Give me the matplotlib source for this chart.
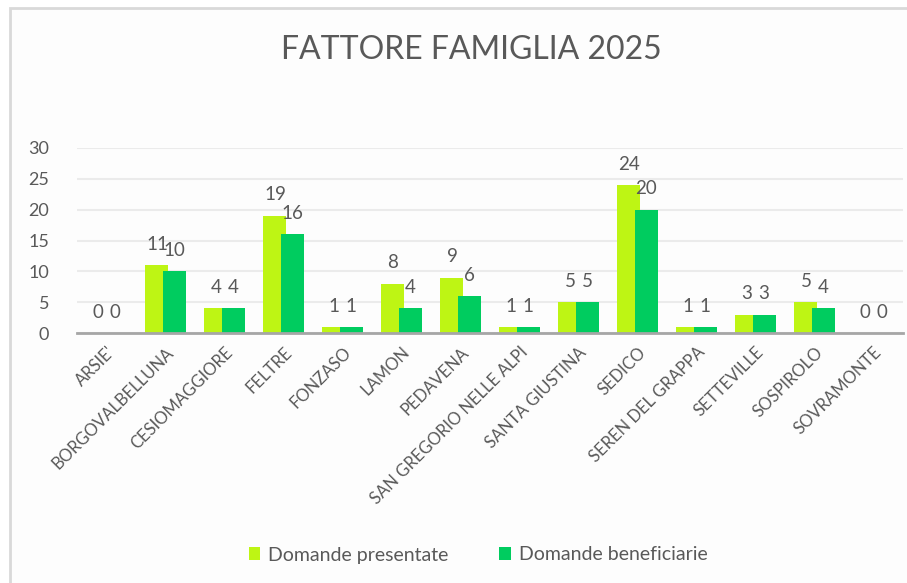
import numpy as np
import matplotlib.pyplot as plt
from matplotlib.patches import Rectangle

# dati del grafico
comuni = ["ARSIE'", "BORGOVALBELLUNA", "CESIOMAGGIORE", "FELTRE", "FONZASO",
          "LAMON", "PEDAVENA", "SAN GREGORIO NELLE ALPI", "SANTA GIUSTINA",
          "SEDICO", "SEREN DEL GRAPPA", "SETTEVILLE", "SOSPIROLO", "SOVRAMONTE"]
presentate = [0, 11, 4, 19, 1, 8, 9, 1, 5, 24, 1, 3, 5, 0]
beneficiarie = [0, 10, 4, 16, 1, 4, 6, 1, 5, 20, 1, 3, 4, 0]
titolo = "FATTORE FAMIGLIA 2025"
serie = ["Domande presentate", "Domande beneficiarie"]

plt.rcParams['font.family'] = ['Lato', 'DejaVu Sans']
grigio = '#595959'
col_lime = '#BEF514'
col_verde = '#00CC5F'

fig = plt.figure(figsize=(9.07, 5.83), dpi=100)
fig.patch.set_facecolor('white')

# cornice del grafico
fig.patches.append(Rectangle((10 / 907, -0.1), 1.2, 1.1 - 8 / 583,
                             transform=fig.transFigure, facecolor='#FDFDFD',
                             edgecolor='#D9D9D9', linewidth=2, zorder=-10))

ax = fig.add_axes([77 / 907, 1 - 333 / 583, 826 / 907, (333 - 148) / 583])
ax.set_facecolor('none')

x = np.arange(len(comuni))
w = 0.39
off = 0.145
b1 = ax.bar(x - off, presentate, w, color=col_lime, zorder=2)
b2 = ax.bar(x + off, beneficiarie, w, color=col_verde, zorder=3)

# etichette dei valori sopra le barre
for barre, valori in [(b1, presentate), (b2, beneficiarie)]:
    for rect, v in zip(barre, valori):
        ax.annotate(str(v), (rect.get_x() + rect.get_width() / 2, v),
                    xytext=(0, 15), textcoords='offset points', ha='center',
                    va='center', fontsize=13.5, color=grigio, zorder=5)

ax.set_xlim(-0.5, len(comuni) - 0.5)
ax.set_ylim(0, 30)
ax.set_yticks(range(0, 31, 5))
ax.yaxis.grid(True, color='#EBEBEB', linewidth=1.5, zorder=0)
ax.set_axisbelow(True)
for s in ['top', 'right', 'left']:
    ax.spines[s].set_visible(False)
ax.spines['bottom'].set_color('#A6A6A6')
ax.spines['bottom'].set_linewidth(2)
ax.spines['bottom'].set_zorder(4)

ax.tick_params(axis='y', length=0, pad=20, labelsize=13, labelcolor=grigio)
ax.tick_params(axis='x', length=0, pad=8, labelsize=12, labelcolor=grigio)
ax.set_xticks(x)
ax.set_xticklabels(comuni, rotation=45, ha='right', rotation_mode='anchor')

fig.text(471 / 907, 1 - 50 / 583, titolo, ha='center', va='center',
         fontsize=23, color=grigio)

ax.legend([b1, b2], serie, loc='center', bbox_to_anchor=(478 / 907, 1 - 555 / 583),
          bbox_transform=fig.transFigure, ncol=2, frameon=False, fontsize=14,
          labelcolor=grigio, handlelength=0.6, handleheight=0.6,
          handletextpad=0.4, columnspacing=2.6)

fig.savefig('out.png', dpi=100)
